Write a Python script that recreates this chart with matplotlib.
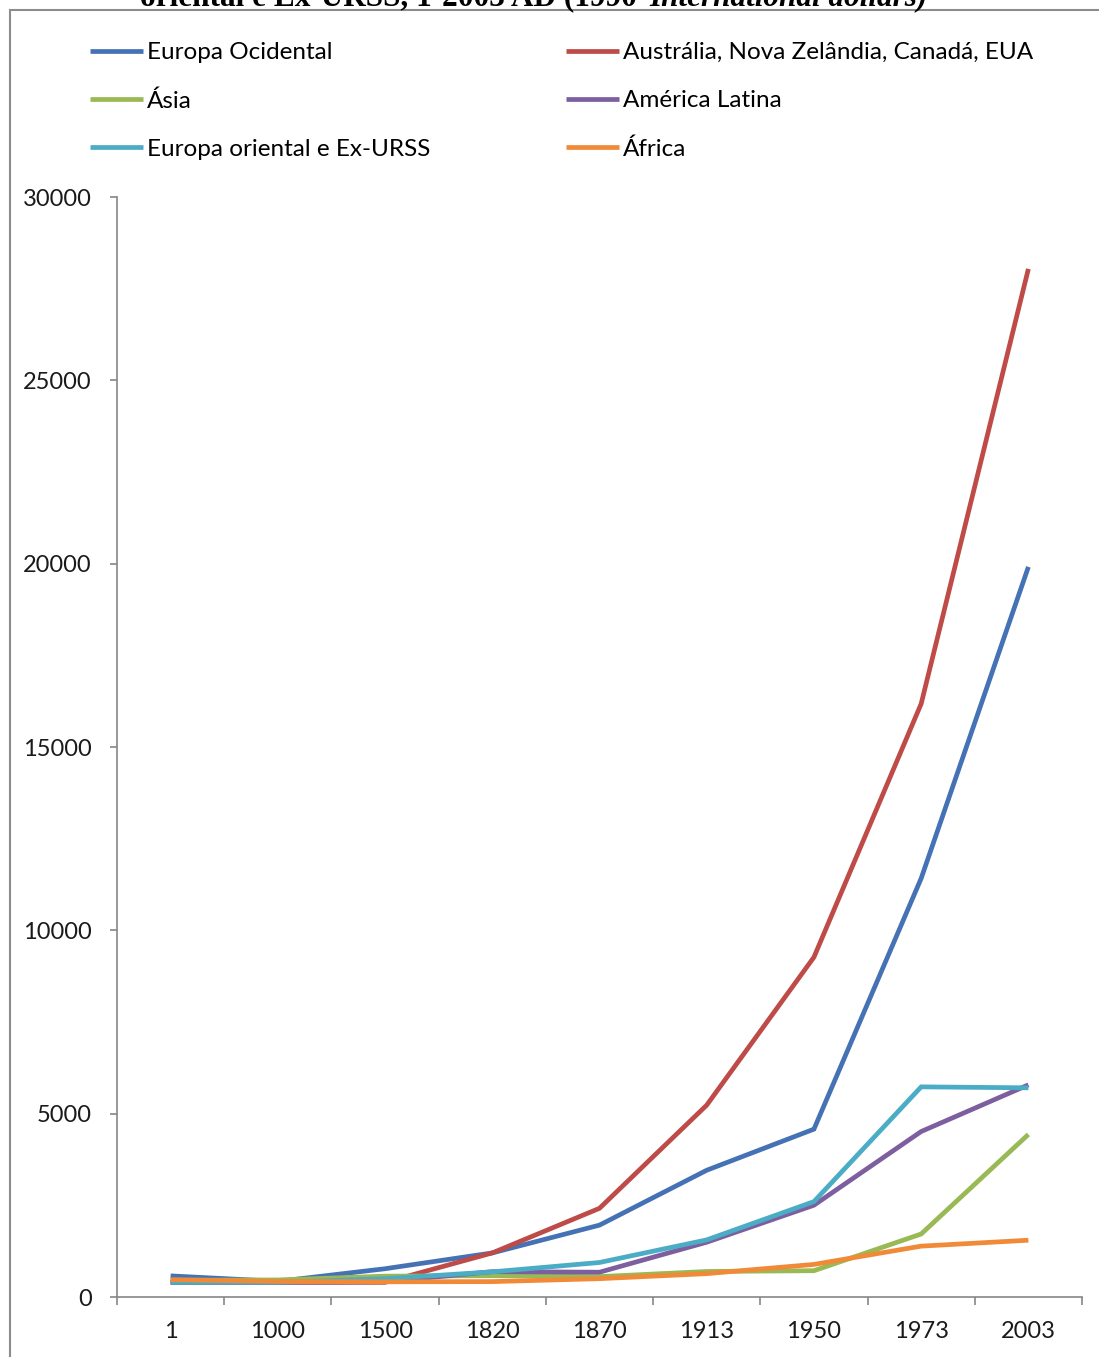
import numpy as np
import matplotlib
matplotlib.use("Agg")
import matplotlib.pyplot as plt
import matplotlib.patches as mpatches
from matplotlib.ticker import FixedLocator

# ------------------------------------------------------------------ #
#  Data (PIB per capita, 1990 international dollars)
# ------------------------------------------------------------------ #
years = ["1", "1000", "1500", "1820", "1870", "1913", "1950", "1973", "2003"]

europa_ocidental = [576, 427, 771, 1202, 1960, 3457, 4578, 11417, 19912]
offshoots = [400, 400, 400, 1202, 2419, 5233, 9268, 16179, 28039]
asia = [456, 465, 568, 581, 556, 696, 717, 1718, 4434]
america_latina = [400, 400, 416, 691, 676, 1494, 2503, 4513, 5786]
europa_oriental = [400, 400, 498, 686, 941, 1558, 2602, 5731, 5705]
africa = [472, 425, 414, 420, 500, 637, 889, 1387, 1549]

SERIES = [
    ("Europa Ocidental", europa_ocidental, "#4472B4"),
    ("Austrália, Nova Zelândia, Canadá, EUA", offshoots, "#BE4B48"),
    ("Ásia", asia, "#98B954"),
    ("América Latina", america_latina, "#7D5FA0"),
    ("Europa oriental e Ex-URSS", europa_oriental, "#4BACC6"),
    ("África", africa, "#F08A38"),
]

W, H = 1099, 1357
FONT = "Lato"
FS = 17.5
AXIS_GRAY = "#868686"

fig = plt.figure(figsize=(W / 100, H / 100), dpi=100)
ax = fig.add_axes([117 / W, 1 - 1297 / H, (1082 - 117) / W, (1297 - 197) / H])

x = np.arange(len(years))
lines = {}
for name, vals, color in SERIES:
    ln, = ax.plot(x, vals, color=color, linewidth=3.4, solid_joinstyle="miter",
                  solid_capstyle="butt", label=name)
    lines[name] = ln

ax.set_xlim(-0.5, len(years) - 0.5)
ax.set_ylim(0, 30000)
ax.set_yticks(np.arange(0, 30001, 5000))
ax.set_yticklabels([str(v) for v in range(0, 30001, 5000)], fontfamily=FONT, fontsize=17)
ax.set_xticks(x)
ax.set_xticklabels(years, fontfamily=FONT, fontsize=17)
ax.xaxis.set_minor_locator(FixedLocator(np.arange(-0.5, len(years), 1.0)))
ax.tick_params(axis="x", which="major", length=0, pad=17.5, colors="#1a1a1a")
ax.tick_params(axis="x", which="minor", length=6, width=1.2, color=AXIS_GRAY, direction="out")
ax.tick_params(axis="y", length=5, width=1.2, color=AXIS_GRAY, pad=13, labelcolor="#1a1a1a")

for side in ("top", "right"):
    ax.spines[side].set_visible(False)
for side in ("left", "bottom"):
    ax.spines[side].set_color(AXIS_GRAY)
    ax.spines[side].set_linewidth(1.2)

# legend: Excel fills row-wise, matplotlib column-wise
order = [0, 2, 4, 1, 3, 5]
handles = [lines[SERIES[i][0]] for i in order]
fig.legend(handles=handles, labels=[SERIES[i][0] for i in order], ncol=2,
           loc="upper left", bbox_to_anchor=(90 / W, 1 - 42 / H), frameon=False,
           borderpad=0, borderaxespad=0, handlelength=2.2, handletextpad=0.15,
           columnspacing=5.56, labelspacing=1.12, prop={"family": FONT, "size": FS})

# outer chart frame (cropped screenshot)
fig.add_artist(mpatches.Rectangle((10 / W, -0.05), 1.2, 1 - 10 / H + 0.05,
                                  transform=fig.transFigure, fill=False,
                                  edgecolor="#8c8c8c", linewidth=1.5, clip_on=False))

# title, cut off at the top
fig.text(645 / W, 1 - 5 / H, "oriental e Ex-URSS, 1-2003 AD (1990 ", ha="right",
         va="baseline", fontfamily="Liberation Serif", fontweight="bold", fontsize=22.5)
fig.text(649 / W, 1 - 5 / H, "International dollars)", ha="left", va="baseline",
         fontfamily="Liberation Serif", fontweight="bold", fontstyle="italic", fontsize=22.5)

fig.savefig("out.png", dpi=100)
